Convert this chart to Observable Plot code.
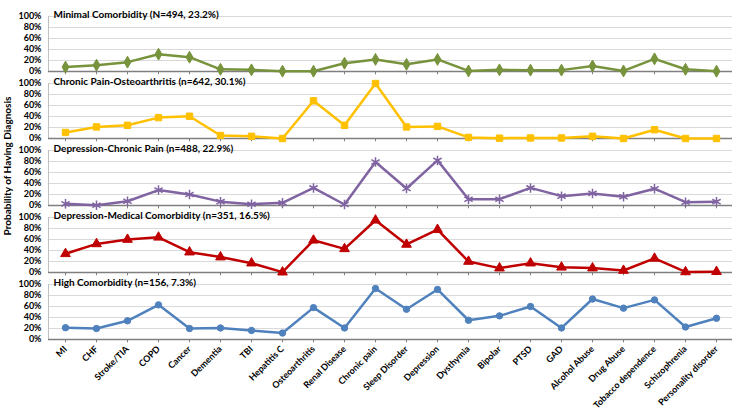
<!DOCTYPE html>
<html><head><meta charset="utf-8">
<script src="https://cdn.jsdelivr.net/npm/d3@7"></script>
<script src="https://cdn.jsdelivr.net/npm/@observablehq/plot@0.6"></script>
<style>
body{margin:0;background:#fff;}
#wrap{position:relative;width:750px;height:413px;font-family:Lato, "Open Sans", sans-serif;}
#wrap svg{position:absolute;left:0;top:0;z-index:0;}
#ylab{position:absolute;left:7px;top:166px;transform:translate(-50%,-50%) rotate(-90deg);font-weight:bold;font-size:10px;white-space:nowrap;color:#000;z-index:2;}
</style></head>
<body><div id="wrap"><div id="ylab">Probability of Having Diagnosis</div></div>
<script>
const categories = ["MI","CHF","Stroke/TIA","COPD","Cancer","Dementia","TBI","Hepatitis C","Osteoarthritis","Renal Disease","Chronic pain","Sleep Disorder","Depression","Dysthymia","Bipolar","PTSD","GAD","Alcohol Abuse","Drug Abuse","Tobacco dependence","Schizophrenia","Personality disorder"];
const groupKeys = ["minimal","painOA","depPain","depMed","high"];
const titles = ["Minimal Comorbidity (N=494, 23.2%)","Chronic Pain-Osteoarthritis (n=642, 30.1%)","Depression-Chronic Pain (n=488, 22.9%)","Depression-Medical Comorbidity (n=351, 16.5%)","High Comorbidity (n=156, 7.3%)"];
const minimal = [8, 11.5, 17, 31.5, 26, 4, 3, 0.6, 0.5, 15, 22, 13, 22, 1, 3, 2.5, 2.5, 10, 1, 23, 4, 0.5];
const painOA = [11, 21, 24, 38, 40.5, 5.5, 4, 0, 68.5, 24, 100, 21, 22, 2, 0.6, 1, 1, 4, 0, 16, 0, 0];
const depPain = [3, 0.6, 7.7, 28, 20, 7, 2.4, 4.8, 32, 1.8, 79, 31, 82, 11.5, 11.5, 32, 17, 22, 16, 30.5, 6, 7];
const depMed = [34, 52, 60, 64, 37, 28, 17, 0.6, 58.6, 43, 95, 51, 78, 20, 8, 17, 9.5, 8, 3.6, 25.6, 1, 1.5];
const high = [21.5, 20, 34, 63, 20, 21, 16.5, 11.7, 58, 21, 92.6, 55, 91, 35, 43, 60, 21, 73.6, 57, 72, 22.7, 38.6];
const yTicks = [0, 20, 40, 60, 80, 100];
const colors = ["#77933C","#FFC000","#8064A2","#C00000","#4F81BD"];
const symbols = ["diamond","square","asterisk","triangle","circle"];

const series = [minimal, painOA, depPain, depMed, high];
const rows = [];
series.forEach((vals, gi) => vals.forEach((v, i) => rows.push({group: groupKeys[gi], cat: categories[i], value: v})));
const titleRows = groupKeys.map((g, i) => ({group: g, title: titles[i]}));

const seriesMarks = [];
groupKeys.forEach((g, gi) => {
  const data = rows.filter(d => d.group === g);
  seriesMarks.push(Plot.line(data, {x: "cat", y: "value", fy: "group", stroke: colors[gi], strokeWidth: 2.5}));
  if (symbols[gi] === "asterisk") {
    seriesMarks.push(Plot.dot(data, {x: "cat", y: "value", fy: "group", symbol: "asterisk", stroke: colors[gi], strokeWidth: 1.5, r: 4.5}));
  } else {
    seriesMarks.push(Plot.dot(data, {x: "cat", y: "value", fy: "group", symbol: symbols[gi], fill: colors[gi], stroke: colors[gi], strokeWidth: 1, r: symbols[gi] === "circle" ? 3.2 : 3.6}));
  }
});

const chart = Plot.plot({
  width: 750,
  height: 413,
  marginLeft: 48,
  marginRight: 18,
  marginTop: 15,
  marginBottom: 73,
  style: {fontFamily: "Lato, 'Open Sans', sans-serif", color: "#000", background: "transparent"},
  x: {type: "point", domain: categories, padding: 0.5},
  y: {domain: [0, 100]},
  fy: {domain: groupKeys, axis: null, paddingInner: 0.186, paddingOuter: 0},
  marks: [
    Plot.gridY([20, 40, 60, 80, 100], {stroke: "#d9d9d9", strokeOpacity: 1, strokeWidth: 1}),
    Plot.frame({anchor: "left", stroke: "#bfbfbf"}),
    Plot.ruleY([0], {stroke: "#7f7f7f", strokeWidth: 1.3}),
    Plot.ruleX(categories, {x: d => d, y1: 0, y2: -6, stroke: "#7f7f7f"}),
    Plot.axisY(yTicks, {tickFormat: d => d + "%", tickSize: 0, tickPadding: 7, label: null, fontWeight: "bold", fontSize: 9}),
    Plot.axisX({tickSize: 0, tickPadding: 8, tickRotate: -45, label: null, fontWeight: "bold", fontSize: 9}),
    ...seriesMarks,
    Plot.text(titleRows, {fy: "group", text: "title", frameAnchor: "top-left", dx: 5, dy: -6, fontWeight: "bold", fontSize: 10, fill: "#000"})
  ]
});
document.getElementById("wrap").insertBefore(chart, document.getElementById("ylab"));
</script>
</body></html>
